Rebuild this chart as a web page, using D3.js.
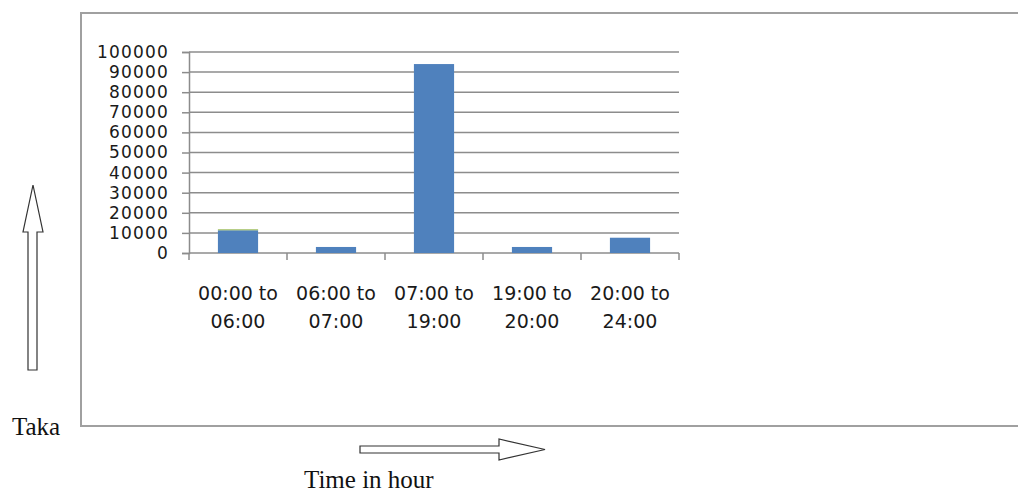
<!DOCTYPE html>
<html>
<head>
<meta charset="utf-8">
<script src="https://cdn.jsdelivr.net/npm/d3@7"></script>
<style>
  body { margin: 0; background: #fff; }
</style>
</head>
<body>
<div id="plot"></div>
<script>
// Chart data
const categories = ['00:00 to|06:00', '06:00 to|07:00', '07:00 to|19:00', '19:00 to|20:00', '20:00 to|24:00'];
const takaMain = [11300, 3000, 94000, 3000, 7600];
const takaExtra = [500, 0, 0, 0, 0];
const yTicks = [0, 10000, 20000, 30000, 40000, 50000, 60000, 70000, 80000, 90000, 100000];

const width = 1018, height = 494;
const margin = {top: 52, left: 189, right: 339, bottom: 241};
const plotW = width - margin.left - margin.right,
      plotH = height - margin.top - margin.bottom;

const svg = d3.select('#plot')
  .append('svg')
    .attr('width', width)
    .attr('height', height);

// Outer frame (no right side)
svg.append('path')
  .attr('d', 'M1018,13 H81 V426 H1018')
  .attr('fill', 'none')
  .attr('stroke', '#a0a0a0')
  .attr('stroke-width', 2);

const g = svg.append('g')
  .attr('transform', 'translate(' + margin.left + ',' + margin.top + ')');

const x = d3.scaleBand()
  .domain(categories)
  .range([0, plotW])
  .paddingInner(0.59)
  .paddingOuter(0.295);

const y = d3.scaleLinear()
  .domain([0, 100000])
  .range([plotH, 0]);

// Gridlines
g.append('g')
  .selectAll('line')
  .data(yTicks.slice(1))
  .enter()
  .append('line')
    .attr('x1', 0)
    .attr('x2', plotW)
    .attr('y1', d => y(d))
    .attr('y2', d => y(d))
    .attr('stroke', '#8c8c8c')
    .attr('stroke-width', 1.5);

// Y axis
const yAxis = g.append('g')
  .call(d3.axisLeft(y).tickValues(yTicks).tickSize(7).tickPadding(13).tickFormat(d3.format('d')));
yAxis.select('.domain').attr('stroke', '#8c8c8c').attr('stroke-width', 1.5);
yAxis.selectAll('.tick line').attr('stroke', '#8c8c8c').attr('stroke-width', 1.5);
yAxis.selectAll('text')
  .attr('font-family', '"DejaVu Sans", sans-serif')
  .attr('font-size', 17)
  .attr('letter-spacing', 1.2)
  .attr('fill', '#1a1a1a');

// X axis
const xAxis = g.append('g')
  .attr('transform', 'translate(0,' + plotH + ')');
xAxis.append('line')
  .attr('x1', 0).attr('x2', plotW)
  .attr('stroke', '#8c8c8c').attr('stroke-width', 1.5);
const bounds = d3.range(categories.length + 1).map(i => i * x.step());
xAxis.selectAll('.xtick')
  .data(bounds)
  .enter()
  .append('line')
    .attr('x1', d => d).attr('x2', d => d)
    .attr('y1', 0).attr('y2', 7)
    .attr('stroke', '#8c8c8c').attr('stroke-width', 1.5);

const labels = xAxis.selectAll('.xlabel')
  .data(categories)
  .enter()
  .append('text')
    .attr('text-anchor', 'middle')
    .attr('font-family', '"DejaVu Sans", sans-serif')
    .attr('font-size', 19)
    .attr('fill', '#1a1a1a');
labels.each(function (d) {
  const parts = d.split('|');
  const cx = x(d) + x.bandwidth() / 2;
  d3.select(this).selectAll('tspan')
    .data(parts)
    .enter()
    .append('tspan')
      .attr('x', cx)
      .attr('y', (p, i) => 47 + i * 28)
      .text(p => p);
});

// Bars
g.append('g')
  .selectAll('rect')
  .data(takaMain)
  .enter()
  .append('rect')
    .attr('x', (d, i) => x(categories[i]))
    .attr('y', d => y(d))
    .attr('width', x.bandwidth())
    .attr('height', d => plotH - y(d))
    .attr('fill', '#4f81bd');

g.append('g')
  .selectAll('rect')
  .data(takaExtra)
  .enter()
  .append('rect')
    .attr('x', (d, i) => x(categories[i]))
    .attr('y', (d, i) => y(takaMain[i] + d))
    .attr('width', x.bandwidth())
    .attr('height', (d, i) => y(takaMain[i]) - y(takaMain[i] + d))
    .attr('fill', '#9bbb59');

// Arrows
const arrowStyle = sel => sel.attr('fill', '#fff').attr('stroke', '#333').attr('stroke-width', 1.2);
svg.append('path')
  .attr('d', 'M28,370 V232 H23 L33,185 L43,232 H37 V370 Z')
  .call(arrowStyle);
svg.append('path')
  .attr('d', 'M360,446 H499 V439 L545,449.5 L499,460 V453 H360 Z')
  .call(arrowStyle);

// Axis captions
svg.append('text')
  .attr('x', 12).attr('y', 435)
  .attr('font-family', '"Liberation Serif", serif')
  .attr('font-size', 25)
  .attr('fill', '#111')
  .text('Taka');
svg.append('text')
  .attr('x', 304).attr('y', 488)
  .attr('font-family', '"Liberation Serif", serif')
  .attr('font-size', 25)
  .attr('fill', '#111')
  .text('Time in hour');
</script>
</body>
</html>
